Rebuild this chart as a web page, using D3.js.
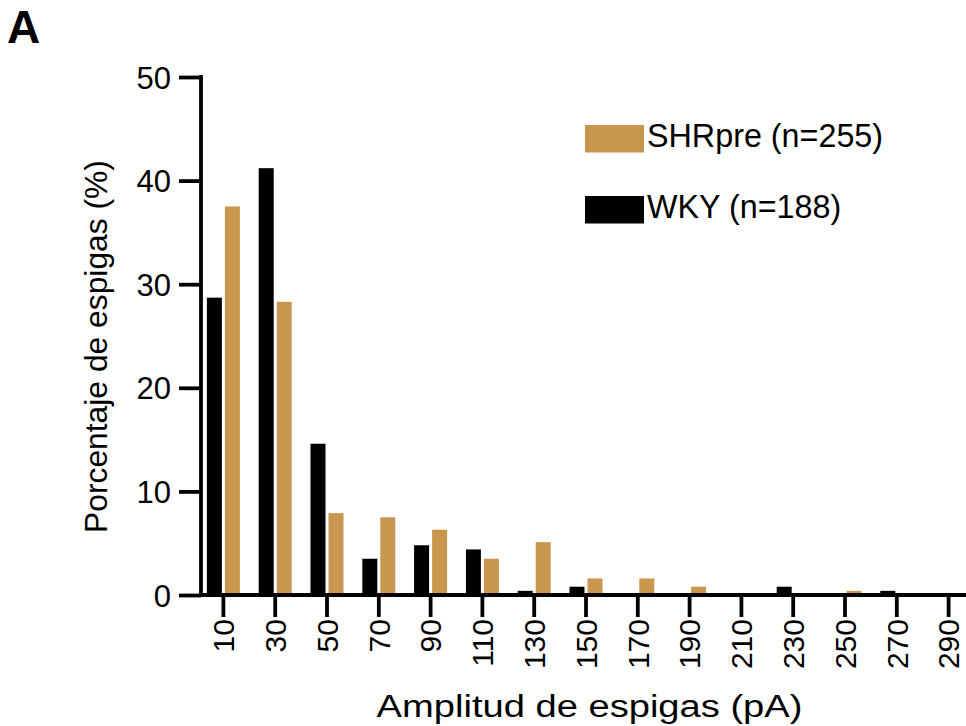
<!DOCTYPE html>
<html><head><meta charset="utf-8">
<script src="https://cdn.jsdelivr.net/npm/d3@7"></script>
<style>body{margin:0;background:#fff}svg{display:block}text{font-family:"Liberation Sans",Arial,Helvetica,sans-serif}</style>
</head><body>
<svg id="c" width="966" height="726"></svg>
<script>
const categories = ["10","30","50","70","90","110","130","150","170","190","210","230","250","270","290"];
const wkyValues  = [28.7,41.2,14.6,3.5,4.8,4.4,0.4,0.8,0,0,0,0.8,0,0.4,0];
const shrValues  = [37.5,28.3,7.9,7.5,6.3,3.5,5.1,1.6,1.6,0.8,0,0,0.4,0,0];
const yTicks = [0,10,20,30,40,50];
const seriesNames = ["SHRpre (n=255)","WKY (n=188)"];
const colors = {shr:"#C8964F", wky:"#000000"};

const svg = d3.select("#c");
const x0 = 201, y0 = 595, yTop = 77;
const x = d3.scaleBand().domain(categories).range([197.5, 197.5 + 15*51.8]).padding(0);
const y = d3.scaleLinear().domain([0,50]).range([y0, yTop]);
const bw = 15, gap = 3;

// bars
const g = svg.append("g");
g.selectAll("rect.wky").data(categories).join("rect")
  .attr("x", d => x(d) + x.bandwidth()/2 - gap/2 - bw)
  .attr("width", bw)
  .attr("y", (d,i) => y(wkyValues[i]))
  .attr("height", (d,i) => y0 - y(wkyValues[i]))
  .attr("fill", colors.wky);
g.selectAll("rect.shr").data(categories).join("rect")
  .attr("x", d => x(d) + x.bandwidth()/2 + gap/2)
  .attr("width", bw)
  .attr("y", (d,i) => y(shrValues[i]))
  .attr("height", (d,i) => y0 - y(shrValues[i]))
  .attr("fill", colors.shr);

// y axis
const ya = svg.append("g").attr("transform", `translate(${x0},0)`)
  .call(d3.axisLeft(y).tickValues(yTicks).tickSize(22).tickPadding(8).tickSizeOuter(0));
ya.select(".domain").attr("stroke-width", 3.8).attr("d", `M0,${yTop-1.9}V${y0+1.9}`);
ya.selectAll(".tick line").attr("stroke-width", 3.8);
ya.selectAll(".tick text").attr("font-size", 31).attr("fill", "#000").attr("dy", "0.36em");

// x axis
const xa = svg.append("g").attr("transform", `translate(0,${y0})`)
  .call(d3.axisBottom(x).tickSize(22).tickSizeOuter(0));
xa.select(".domain").attr("stroke-width", 3.8).attr("d", `M${x0-1.9},0H966`);
xa.selectAll(".tick line").attr("stroke-width", 3.8);
xa.selectAll(".tick text").attr("font-size", 30).attr("fill", "#000")
  .attr("transform", "rotate(-90)").attr("text-anchor", "end")
  .attr("x", -24).attr("y", 0).attr("dy", "0.36em");

// axis titles
svg.append("text").attr("transform", "translate(107,346.5) rotate(-90)")
  .attr("text-anchor", "middle").attr("font-size", 31.8).text("Porcentaje de espigas (%)");
svg.append("text").attr("transform", "translate(589.5,717) scale(1.23,1)")
  .attr("text-anchor", "middle").attr("font-size", 31).text("Amplitud de espigas (pA)");

// panel letter
svg.append("text").attr("x", 7).attr("y", 43).attr("font-size", 46).attr("font-weight", "bold").text("A");

// legend
const leg = [{n:seriesNames[0], c:colors.shr, y:125},{n:seriesNames[1], c:colors.wky, y:196}];
leg.forEach(l => {
  svg.append("rect").attr("x", 585).attr("y", l.y).attr("width", 59).attr("height", 27.5).attr("fill", l.c);
  svg.append("text").attr("x", 647).attr("y", l.y + 22).attr("font-size", 32.3).text(l.n);
});
</script>
</body></html>
